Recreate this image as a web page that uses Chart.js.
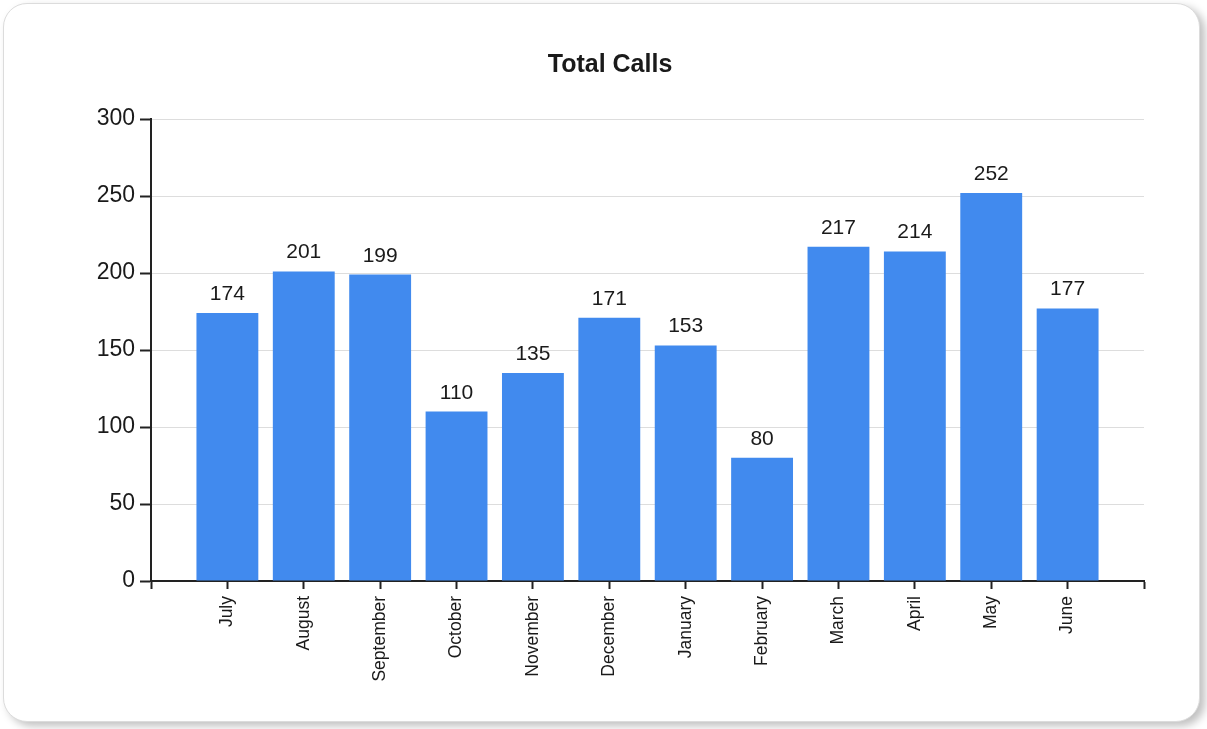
<!DOCTYPE html>
<html>
<head>
<meta charset="utf-8">
<title>Total Calls</title>
<script src="https://cdn.jsdelivr.net/npm/chart.js@4/dist/chart.umd.min.js"></script>
<style>
  html, body { margin: 0; padding: 0; background: #fff; }
  .card {
    position: absolute; left: 3px; top: 3px;
    width: 1195px; height: 717px;
    border: 1px solid #dcdcdc; border-radius: 24px;
    background: #fff;
    box-shadow: 5px 4px 8px rgba(0,0,0,0.25);
    overflow: hidden;
  }
  .card canvas { position: absolute; left: 0; top: 0; }
</style>
</head>
<body>
<div class="card">
  <canvas id="callsChart" width="1195" height="717"></canvas>
</div>
<script>
// Total Calls per month (financial year July -> June)

const months = ["July", "August", "September", "October", "November", "December",
                "January", "February", "March", "April", "May", "June"];
const totalCalls = [174, 201, 199, 110, 135, 171, 153, 80, 217, 214, 252, 177];
const yTicks = [0, 50, 100, 150, 200, 250, 300];

const FONT = "'Liberation Sans', Arial, sans-serif";
const TEXT = "#1a1a1a";

// empty slots at both ends give the half-empty gap the reference has
const labels = ["", ...months, ""];
const values = [null, ...totalCalls, null];

// ─── Value labels over each bar ───────────────────────────────────────────────
const barValues = {
  id: "barValues",
  afterDatasetsDraw(chart) {
    const ctx = chart.ctx;
    const meta = chart.getDatasetMeta(0);
    ctx.save();
    ctx.font = "21px " + FONT;
    ctx.fillStyle = TEXT;
    ctx.textAlign = "center";
    ctx.textBaseline = "alphabetic";
    meta.data.forEach((bar, i) => {
      const v = values[i];
      if (v == null) return;
      ctx.fillText(String(v), bar.x, bar.y - 13);
    });
    ctx.restore();
  }
};

new Chart(document.getElementById("callsChart"), {
  type: "bar",
  data: {
    labels,
    datasets: [{
      label: "Total Calls",
      data: values,
      backgroundColor: "#418AEE",
      borderWidth: 0,
      categoryPercentage: 0.81,
      barPercentage: 1,
    }]
  },
  options: {
    responsive: false,
    animation: false,
    layout: { padding: { left: 72, right: 55, top: 0, bottom: 0 } },
    plugins: {
      legend: { display: false },
      tooltip: { enabled: false },
      title: {
        display: true,
        text: "Total Calls",
        color: TEXT,
        font: { family: FONT, size: 25, weight: "bold" },
        padding: { top: 46, bottom: 39 },
      }
    },
    scales: {
      x: {
        offset: false,
        grid: {
          offset: false,
          drawOnChartArea: false,
          drawTicks: true,
          tickLength: 8,
          tickColor: "#222",
          tickWidth: 2,
        },
        border: { color: "#222", width: 2 },
        ticks: {
          color: TEXT,
          font: { family: FONT, size: 17.5 },
          minRotation: 90,
          maxRotation: 90,
          autoSkip: false,
          padding: 7,
        },
        afterFit: s => { s.height = 140; }
      },
      y: {
        min: 0,
        max: 300,
        afterBuildTicks: s => { s.ticks = yTicks.map(v => ({ value: v })); },
        grid: {
          color: "#dddddd",
          lineWidth: 1,
          tickLength: 11,
          tickColor: "#222",
          tickWidth: 2,
        },
        border: { color: "#222", width: 2 },
        ticks: {
          color: TEXT,
          font: { family: FONT, size: 23 },
          padding: 5,
        },
        afterFit: s => { s.width = 147 - 72; }
      }
    }
  },
  plugins: [barValues]
});
</script>
</body>
</html>
